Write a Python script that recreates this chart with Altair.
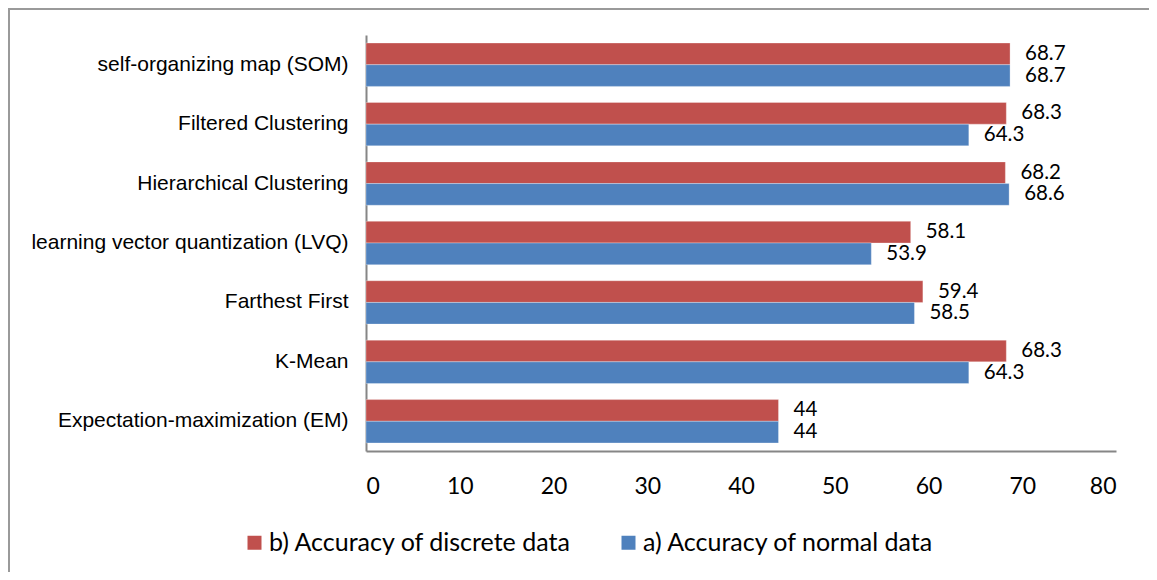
import altair as alt
import pandas as pd

categories = [
    "self-organizing map (SOM)",
    "Filtered Clustering",
    "Hierarchical Clustering",
    "learning vector quantization (LVQ)",
    "Farthest First",
    "K-Mean",
    "Expectation-maximization (EM)",
]
series = ["b) Accuracy of discrete data", "a) Accuracy of normal data"]
discrete = [68.7, 68.3, 68.2, 58.1, 59.4, 68.3, 44]
normal = [68.7, 64.3, 68.6, 53.9, 58.5, 64.3, 44]
colors = ["#C0504D", "#4F81BD"]

rows = []
for c, d, n in zip(categories, discrete, normal):
    rows.append({"cat": c, "series": series[0], "value": d, "label": f"{d:g}"})
    rows.append({"cat": c, "series": series[1], "value": n, "label": f"{n:g}"})
df = pd.DataFrame(rows)

y_enc = alt.Y("cat:N", sort=categories, title=None,
              scale=alt.Scale(paddingInner=0.27, paddingOuter=0.135),
              axis=alt.Axis(labelFont="Liberation Sans, Arial, sans-serif", labelFontSize=21,
                            labelColor="#000000", ticks=False, labelPadding=18,
                            domainColor="#868686", domainWidth=2, labelLimit=400))
yoff = alt.YOffset("series:N", sort=series,
                   scale=alt.Scale(domain=series, paddingInner=0, paddingOuter=0))
x_enc = alt.X("value:Q", title=None,
              scale=alt.Scale(domain=[0, 80], nice=False),
              axis=alt.Axis(values=list(range(0, 81, 10)), grid=False, ticks=False,
                            labelFont="Lato", labelFontSize=23, labelColor="#000000",
                            labelPadding=24, domainColor="#868686", domainWidth=2))

base = alt.Chart(df)

bars = base.mark_bar(stroke="#ffffff", strokeWidth=0.6, strokeOpacity=0.5).encode(
    y=y_enc, yOffset=yoff, x=x_enc,
    color=alt.Color("series:N", sort=series,
                    scale=alt.Scale(domain=series, range=colors),
                    legend=alt.Legend(title=None, orient="none", direction="horizontal",
                                      legendX=-124, legendY=495,
                                      symbolType="square", symbolSize=196,
                                      symbolStrokeWidth=0, labelFont="Lato",
                                      labelFontSize=25, labelColor="#000000",
                                      labelOffset=2, columnPadding=44, padding=0,
                                      labelLimit=500)),
)

labels = base.mark_text(align="left", baseline="middle", dx=15, font="Lato",
                        fontSize=20.5, color="#000000").encode(
    y=alt.Y("cat:N", sort=categories), yOffset=yoff,
    x=alt.X("value:Q"), text="label:N",
)

frame = alt.Chart(pd.DataFrame({"a": [0]})).mark_rect(
    fill=None, stroke="#9a9a9a", strokeWidth=2, clip=False).encode(
    x=alt.value(-357), x2=alt.value(800), y=alt.value(-26), y2=alt.value(570))

chart = alt.layer(frame, bars, labels).properties(
    width=750, height=416,
    background="#ffffff",
    autosize=alt.AutoSizeParams(type="none"),
    padding={"left": 358, "top": 27, "right": 33, "bottom": 121},
).configure_view(strokeWidth=0, stroke="transparent")

chart.save("out.html", embed_options={"renderer": "svg", "actions": False})
